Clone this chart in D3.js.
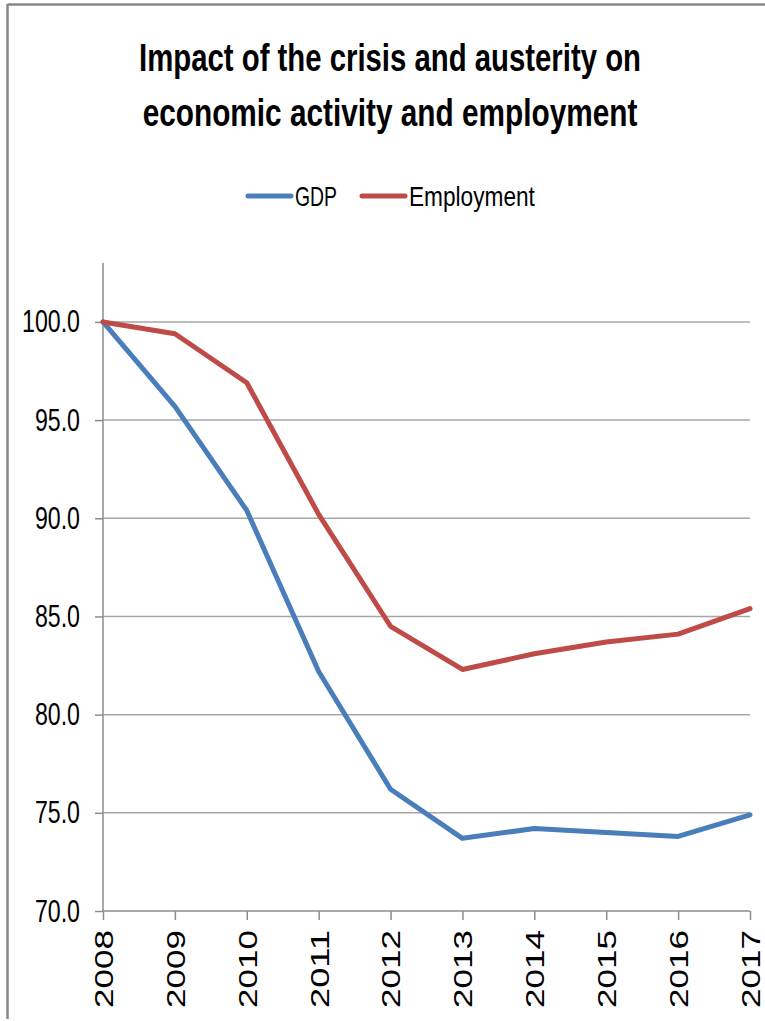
<!DOCTYPE html>
<html>
<head>
<meta charset="utf-8">
<script src="https://cdn.jsdelivr.net/npm/d3@7"></script>
<style>
  html, body { margin: 0; padding: 0; background: #fff; }
  svg { display: block; }
  text { font-family: "Liberation Sans Narrow", "Arial Narrow", "Liberation Sans", Arial, sans-serif; fill: #000; }
</style>
</head>
<body>
<svg id="chart" width="765" height="1021"></svg>
<script>
// Index values, 2008 = 100
const years = ["2008", "2009", "2010", "2011", "2012", "2013", "2014", "2015", "2016", "2017"];
const gdp = [100.0, 95.7, 90.4, 82.2, 76.2, 73.7, 74.2, 74.0, 73.8, 74.9];
const employment = [100.0, 99.4, 96.9, 90.2, 84.5, 82.3, 83.1, 83.7, 84.1, 85.4];
const yTicks = [70, 75, 80, 85, 90, 95, 100];
const seriesNames = ["GDP", "Employment"];
const seriesColors = ["#4a7ebb", "#be4b48"];
const titleLines = ["Impact of the crisis and austerity on", "economic activity and employment"];

const svg = d3.select("#chart");
const W = 765, H = 1021;
const plot = { left: 103, right: 750, top: 263, bottom: 911 };

// Outer chart frame (top and left edges visible)
svg.append("line").attr("x1", 7.5).attr("x2", W).attr("y1", 4.5).attr("y2", 4.5)
  .attr("stroke", "#878787").attr("stroke-width", 2.5);
svg.append("line").attr("x1", 7.5).attr("x2", 7.5).attr("y1", 4).attr("y2", 1019)
  .attr("stroke", "#878787").attr("stroke-width", 2.5);

// Condensed text: shrink the font so the run is `w` wide, then stretch it
// vertically back to the height of `size`. Text is positioned via the
// group transform; (x, y) is the anchor point.
function condensed(parent, str, x, y, size, w, anchor, weight) {
  const g = parent.append("g").attr("transform", `translate(${x},${y})`);
  const t = g.append("text").attr("text-anchor", anchor || "start")
    .attr("font-size", size).attr("font-weight", weight || "normal").text(str);
  const s = w / t.node().getComputedTextLength();
  t.attr("font-size", size * s);
  g.attr("transform", `translate(${x},${y}) scale(1,${1 / s})`);
  return t;
}

// Title
const titleWidths = [502, 495];
const titleBase = [71, 126];
titleLines.forEach((t, i) => {
  condensed(svg, t, 390, titleBase[i], 38, titleWidths[i], "middle", "bold");
});

// Legend
const legend = [
  { x1: 248, x2: 291, tx: 295, tw: 42 },
  { x1: 362, x2: 405, tx: 409, tw: 126 }
];
seriesNames.forEach((name, i) => {
  const g = svg.append("g");
  g.append("line").attr("x1", legend[i].x1).attr("x2", legend[i].x2)
    .attr("y1", 196).attr("y2", 196)
    .attr("stroke", seriesColors[i]).attr("stroke-width", 5).attr("stroke-linecap", "round");
  condensed(g, name, legend[i].tx, 206, 27, legend[i].tw, "start");
});

// Scales
const x = d3.scalePoint().domain(years).range([plot.left, plot.right]);
const y = d3.scaleLinear().domain([70, 103]).range([plot.bottom, plot.top]);

// Horizontal gridlines
svg.append("g").selectAll("line").data(yTicks.filter(v => v > 70)).join("line")
  .attr("x1", plot.left).attr("x2", plot.right)
  .attr("y1", d => y(d)).attr("y2", d => y(d))
  .attr("stroke", "#a6a6a6").attr("stroke-width", 1.5);

// Y axis
const yFmt = d3.format(".1f");
const yAxis = svg.append("g").attr("transform", `translate(${plot.left},0)`)
  .call(d3.axisLeft(y).tickValues(yTicks).tickSize(8).tickFormat(() => ""));
yAxis.select(".domain").attr("stroke", "#8c8c8c").attr("stroke-width", 1.5)
  .attr("d", `M0,${plot.top}V${plot.bottom}`);
yAxis.selectAll(".tick line").attr("stroke", "#8c8c8c").attr("stroke-width", 1.5);
yAxis.selectAll(".tick text").remove();
{
  // common horizontal squeeze factor taken from the widest label
  const probe = svg.append("text").attr("font-size", 31).text(yFmt(100));
  const k = 58 / probe.node().getComputedTextLength();
  probe.remove();
  yAxis.selectAll(".tick").each(function (d) {
    const tick = d3.select(this);
    const tmp = tick.append("text").attr("font-size", 31).text(yFmt(d));
    const w = tmp.node().getComputedTextLength() * k;
    tmp.remove();
    condensed(tick, yFmt(d), -23, 10, 31, w, "end").attr("fill", "#000");
  });
}

// X axis
const xAxis = svg.append("g").attr("transform", `translate(0,${plot.bottom})`)
  .call(d3.axisBottom(x).tickSize(9).tickPadding(0));
xAxis.select(".domain").attr("stroke", "#8c8c8c").attr("stroke-width", 1.5)
  .attr("d", `M${plot.left},0H${plot.right}`);
xAxis.selectAll(".tick line").attr("stroke", "#8c8c8c").attr("stroke-width", 1.5);
xAxis.selectAll(".tick text")
  .attr("font-family", "\"DejaVu Sans\", Verdana, sans-serif")
  .attr("font-size", 26).attr("fill", "#111")
  .attr("text-anchor", "end")
  .attr("transform", "rotate(-90)")
  .attr("x", -19).attr("y", 0).attr("dy", "0.36em")
  .attr("textLength", 78).attr("lengthAdjust", "spacingAndGlyphs");

// Series lines
const line = d3.line().x((d, i) => x(years[i])).y(d => y(d));
[gdp, employment].forEach((vals, i) => {
  svg.append("path").datum(vals)
    .attr("d", line)
    .attr("fill", "none")
    .attr("stroke", seriesColors[i])
    .attr("stroke-width", 5)
    .attr("stroke-linejoin", "round")
    .attr("stroke-linecap", "round");
});
</script>
</body>
</html>
